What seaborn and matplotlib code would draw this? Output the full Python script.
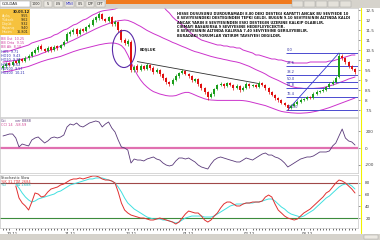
import numpy as np
import pandas as pd
import matplotlib
matplotlib.use("Agg")
import matplotlib.pyplot as plt
import seaborn as sns
from matplotlib.patches import Rectangle, Ellipse
from matplotlib.lines import Line2D

sns.set_style("white")
plt.rcParams['font.family'] = ['DejaVu Sans']

# ---------------- data ----------------
opens = [9.60,9.70,9.85,9.75,9.95,9.85,10.05,9.95,10.10,10.20,
         10.35,10.50,10.70,10.55,10.45,10.65,10.50,10.70,10.60,10.75,
         10.95,11.30,11.40,11.55,11.30,11.55,11.45,11.65,11.75,12.00,
         12.10,12.30,12.05,11.95,12.15,11.80,11.90,11.50,11.00,10.80,
         10.90,9.50,9.70,9.50,9.70,9.55,9.75,9.60,9.40,9.50,
         9.30,9.10,8.90,8.80,9.00,9.20,9.35,9.45,9.30,9.20,
         8.95,9.05,8.80,8.60,8.40,8.15,8.30,8.55,8.75,8.80,
         8.70,8.85,8.75,8.60,8.70,8.50,8.60,8.80,8.70,8.75,
         8.65,8.85,8.75,8.60,8.40,8.25,8.10,8.00,7.85,7.75,
         7.60,7.70,7.80,7.90,8.00,8.05,8.15,8.10,8.30,8.40,
         8.45,8.50,8.65,8.80,8.90,9.15,10.20,10.10,9.90,9.70,
         9.55]
closes = [9.70,9.80,9.75,9.90,9.85,10.00,9.95,10.10,10.20,10.40,
          10.50,10.65,10.55,10.45,10.60,10.50,10.65,10.60,10.75,10.90,
          11.30,11.40,11.50,11.30,11.50,11.45,11.65,11.75,12.00,12.15,
          12.30,12.05,11.95,12.15,11.80,11.90,11.50,11.00,10.85,10.95,
          9.50,9.65,9.50,9.70,9.55,9.75,9.60,9.40,9.50,9.30,
          9.10,8.90,8.80,9.00,9.20,9.35,9.45,9.30,9.20,9.00,
          9.05,8.80,8.60,8.40,8.15,8.30,8.55,8.75,8.80,8.70,
          8.85,8.75,8.60,8.70,8.50,8.60,8.80,8.70,8.75,8.65,
          8.85,8.75,8.60,8.40,8.25,8.10,8.00,7.85,7.75,7.60,
          7.70,7.80,7.90,8.00,8.05,8.15,8.10,8.30,8.40,8.45,
          8.50,8.65,8.80,8.90,9.10,10.20,10.10,9.90,9.70,9.55,
          9.40]
highs = [9.78,9.88,9.92,9.98,10.02,10.08,10.12,10.18,10.28,10.46,
         10.58,10.74,10.78,10.62,10.68,10.72,10.74,10.76,10.82,10.98,
         11.38,11.48,11.58,11.62,11.58,11.62,11.72,11.84,12.08,12.22,
         12.40,12.36,12.12,12.22,12.20,11.98,11.96,11.56,11.08,11.05,
         10.98,9.74,9.78,9.78,9.76,9.84,9.82,9.68,9.58,9.56,
         9.36,9.16,8.96,9.08,9.28,9.42,9.54,9.52,9.36,9.26,
         9.12,9.10,8.86,8.66,8.46,8.38,8.62,8.82,8.88,8.86,
         8.92,8.90,8.80,8.78,8.76,8.68,8.88,8.86,8.82,8.80,
         8.94,8.90,8.80,8.66,8.46,8.30,8.16,8.06,7.90,7.80,
         7.78,7.88,7.98,8.08,8.12,8.22,8.20,8.38,8.48,8.52,
         8.58,8.72,8.88,8.98,9.18,10.35,10.30,10.16,9.96,9.76,
         9.62]
lows = [9.52,9.62,9.68,9.68,9.78,9.78,9.88,9.88,10.02,10.14,
        10.28,10.42,10.48,10.38,10.38,10.42,10.44,10.52,10.54,10.68,
        10.88,11.22,11.32,11.22,11.24,11.38,11.38,11.58,11.68,11.92,
        12.02,11.98,11.88,11.88,11.72,11.72,11.42,10.92,10.76,10.72,
        9.40,9.42,9.42,9.44,9.48,9.48,9.52,9.32,9.34,9.22,
        9.02,8.82,8.72,8.74,8.94,9.12,9.28,9.24,9.12,8.92,
        8.88,8.72,8.52,8.32,8.02,8.08,8.22,8.48,8.68,8.62,
        8.64,8.68,8.52,8.54,8.42,8.44,8.54,8.62,8.64,8.58,
        8.60,8.68,8.52,8.32,8.18,8.02,7.92,7.78,7.68,7.50,
        7.54,7.64,7.74,7.84,7.94,7.98,8.04,8.04,8.24,8.34,
        8.38,8.44,8.58,8.74,8.84,9.08,10.02,9.82,9.62,9.48,
        9.32]
band_upper = [10.40,10.45,10.45,10.50,10.55,10.60,10.65,10.70,10.75,10.85,
              10.90,10.95,11.00,11.05,11.10,11.15,11.25,11.30,11.40,11.50,
              11.55,11.65,11.75,11.80,11.90,12.00,12.05,12.15,12.25,12.32,
              12.40,12.45,12.48,12.50,12.52,12.55,12.62,12.75,12.90,13.00,
              13.30,13.50,13.60,13.65,13.65,13.60,13.45,13.25,13.00,12.85,
              12.70,12.50,12.35,12.15,12.00,11.90,11.75,11.60,11.45,11.30,
              11.20,11.10,11.00,10.95,10.90,10.85,10.80,10.75,10.75,10.70,
              10.70,10.65,10.65,10.60,10.60,10.50,10.45,10.40,10.35,10.25,
              10.25,10.20,10.15,10.10,10.05,10.05,10.00,10.00,9.95,9.90,
              9.90,9.85,9.85,9.85,9.85,9.85,9.90,9.90,9.90,9.90,
              9.90,9.90,9.95,9.95,10.00,10.05,10.10,10.15,10.20,10.25,
              10.25]
band_mid = [9.90,9.92,9.94,9.96,9.98,10.02,10.05,10.08,10.12,10.16,
            10.20,10.25,10.32,10.38,10.44,10.50,10.56,10.62,10.70,10.78,
            10.85,10.93,11.00,11.08,11.16,11.25,11.32,11.40,11.48,11.56,
            11.63,11.70,11.76,11.82,11.88,11.92,11.96,11.98,12.00,11.98,
            11.92,11.85,11.76,11.68,11.58,11.48,11.40,11.32,11.25,11.18,
            11.10,11.03,10.96,10.88,10.82,10.75,10.68,10.62,10.55,10.48,
            10.42,10.38,10.33,10.28,10.23,10.18,10.14,10.10,10.07,10.03,
            10.00,9.96,9.93,9.90,9.86,9.80,9.74,9.68,9.60,9.52,
            9.45,9.38,9.30,9.20,9.12,9.05,8.98,8.90,8.82,8.75,
            8.68,8.64,8.61,8.60,8.58,8.58,8.58,8.58,8.59,8.60,
            8.62,8.66,8.70,8.75,8.80,8.86,8.92,8.98,9.05,9.10,
            9.15]
band_lower = [9.40,9.42,9.45,9.48,9.52,9.56,9.60,9.64,9.68,9.74,
              9.80,9.86,9.92,9.97,10.02,10.06,10.10,10.14,10.18,10.24,
              10.30,10.36,10.42,10.47,10.52,10.56,10.60,10.64,10.68,10.72,
              10.76,10.79,10.82,10.84,10.85,10.84,10.80,10.72,10.55,10.25,
              9.90,9.55,9.25,9.00,8.80,8.65,8.52,8.42,8.36,8.30,
              8.26,8.22,8.20,8.20,8.22,8.28,8.34,8.38,8.38,8.32,
              8.25,8.18,8.12,8.06,8.02,8.00,7.99,7.98,7.98,7.98,
              7.98,7.98,7.98,7.98,7.98,7.97,7.95,7.92,7.88,7.84,
              7.80,7.76,7.72,7.66,7.60,7.54,7.48,7.43,7.40,7.38,
              7.36,7.35,7.34,7.34,7.35,7.36,7.38,7.41,7.44,7.48,
              7.52,7.57,7.62,7.68,7.74,7.80,7.86,7.92,7.98,8.04,
              8.10]
cci = [142,153,165,165,118,12,47,35,24,94,
       118,130,94,59,83,118,130,118,130,153,
       248,283,271,295,260,248,271,295,307,319,
       307,248,283,307,236,189,94,12,0,-24,
       -177,-130,-142,-142,-153,-130,-118,-106,-130,-142,
       -177,-201,-212,-201,-153,-118,-118,-130,-118,-142,
       -165,-201,-224,-236,-248,-189,-142,-118,-106,-118,
       -130,-142,-153,-165,-165,-142,-118,-130,-142,-118,
       -94,-71,-59,-83,-83,-106,-118,-142,-177,-224,
       -201,-177,-153,-130,-118,-106,-106,-94,-71,-47,
       -47,-47,-35,24,59,142,224,118,83,71,
       35]
stoch_start = 4
stoch_k = [74.9,54.3,45.7,40.6,33.7,47.4,62.9,61.1,56.0,57.7,
           64.6,69.7,71.4,73.1,76.6,78.3,81.7,85.1,86.9,86.9,
           88.6,86.9,88.6,90.3,92.0,92.0,90.3,86.9,85.1,85.1,
           83.4,80.0,64.6,45.7,33.7,28.6,25.1,23.4,21.7,20.0,
           20.0,18.3,16.6,16.6,18.3,20.0,18.3,16.6,14.9,13.1,
           9.7,13.1,20.0,26.9,32.0,30.3,28.6,28.6,23.4,16.6,
           13.1,16.6,23.4,28.6,37.1,44.0,47.4,47.4,44.0,40.6,
           40.6,44.0,45.7,45.7,47.4,47.4,47.4,49.1,56.0,59.4,
           56.0,44.0,33.7,28.6,23.4,20.0,18.3,16.6,18.3,23.4,
           28.6,32.0,35.4,40.6,45.7,50.9,56.0,62.9,66.3,73.1,
           80.0,85.1,83.4,80.0,74.9,69.7,62.9]
stoch_d = [78.3,71.4,62.9,56.0,50.9,47.4,49.1,52.6,54.3,56.0,
           57.7,59.4,61.1,64.6,66.3,69.7,73.1,76.6,78.3,80.0,
           81.7,83.4,85.1,86.9,86.9,88.6,88.6,88.6,86.9,85.1,
           83.4,80.0,73.1,64.6,54.3,45.7,40.6,35.4,32.0,28.6,
           25.1,21.7,20.0,18.3,18.3,18.3,16.6,16.6,14.9,13.1,
           11.4,13.1,16.6,20.0,21.7,23.4,23.4,23.4,23.4,21.7,
           21.7,21.7,23.4,26.9,30.3,33.7,37.1,40.6,42.3,44.0,
           44.0,44.0,45.7,45.7,45.7,47.4,47.4,49.1,50.9,52.6,
           52.6,49.1,44.0,38.9,35.4,30.3,26.9,25.1,23.4,21.7,
           23.4,26.9,30.3,33.7,38.9,44.0,49.1,54.3,57.7,62.9,
           68.0,73.1,76.6,78.3,78.3,74.9,69.7]
date_labels = ["10.11", "11.11", "12.11", "01.12", "02.12", "03.12"]
date_pos = [3, 21, 40, 58, 77, 95]
fib_ratios = [0.0, 0.236, 0.382, 0.5, 0.618, 0.764, 1.0]
fib_labels = ["0.0", "23.6", "38.2", "50.0", "61.8", "76.4", "100.0"]
trend_x = [42, 80]
trend_y = [9.92, 8.82]
gap_label = "BOŞLUK"
comment_lines = [
    "HISSE DUSUSUNU DURDURAMADI 8.80 DEKI DESTEGI KAPATTI ANCAK BU SEVIYEDE 10",
    "8 SEVIYESINDEKI DESTEGINDEN TEPKI GELDI. BUGUN 9.10 SEVIYESININ ALTINDA KALDI",
    "ANCAK YARIN 8 SEVIYESINDEN ESKI DESTEGIN UZERINE KALKIP OLABILIR.",
    "CIKMAYI BASARIRSA 9 SEVIYESINE HEDEFLEYECEKTIR.",
    "8 SEVIYESININ ALTINDA KALIRSA 7.40 SEVIYESINE GERILEYEBILIR.",
    "BURADAKI YORUMLAR YATIRIM TAVSIYESI DEGILDIR.",
]

# ---------------- figure ----------------
W, H = 380, 240
fig = plt.figure(figsize=(W / 100, H / 100), dpi=100)
fig.patch.set_facecolor("white")

def ax_px(x0, y0, x1, y1):
    return fig.add_axes([x0 / W, 1 - y1 / H, (x1 - x0) / W, (y1 - y0) / H])

ax1 = ax_px(0, 8, 358, 117)
ax2 = ax_px(0, 118, 358, 173)
ax3 = ax_px(0, 175, 358, 228)

n = len(closes)
idx = np.arange(n)
XL = (-0.94, 110.94)

for ax in (ax1, ax2, ax3):
    ax.set_xlim(*XL)
    ax.yaxis.tick_right()
    ax.tick_params(axis='y', labelsize=3, length=1.2, width=0.4, pad=4,
                   colors="#404040")
    for s in ax.spines.values():
        s.set_color("#c8c8c8")
        s.set_linewidth(0.5)
    ax.set_facecolor("white")

# ---- main price panel ----
bb = pd.DataFrame({"i": idx, "up": band_upper, "mid": band_mid, "lo": band_lower})
for col in ("up", "mid", "lo"):
    sns.lineplot(data=bb, x="i", y=col, ax=ax1, color="#cc33cc", linewidth=0.7,
                 legend=False, zorder=1)

o = np.array(opens); c = np.array(closes)
hi = np.array(highs); lo = np.array(lows)
up = c >= o
cols = np.where(up, "#1a9e1a", "#e01010")
ax1.vlines(idx, lo, hi, colors=cols, linewidth=0.5, zorder=3)
body = np.maximum(np.abs(c - o), 0.02)
ax1.bar(idx, body, bottom=np.minimum(o, c), width=0.65, color=cols, linewidth=0,
        zorder=3)

ax1.set_ylim(7.15, 12.6)
ax1.set_yticks(np.arange(7.5, 12.51, 0.5))
ax1.set_yticklabels([f"{v:g}" for v in np.arange(7.5, 12.51, 0.5)])
ax1.set_xticks([])
ax1.set_xlabel(""); ax1.set_ylabel("")

# trend line
sns.lineplot(x=trend_x, y=trend_y, ax=ax1, color="#303030", linewidth=0.6, legend=False)

# Fibonacci
i_lo = int(np.argmin(lo))
i_hi = i_lo + int(np.argmax(hi[i_lo:]))
f_lo, f_hi = lo[i_lo], hi[i_hi]
for r, lab in zip(fib_ratios, fib_labels):
    lev = f_hi - r * (f_hi - f_lo)
    ax1.hlines(lev, i_lo - 0.5, XL[1], color="#4a4ad0", linewidth=0.7, zorder=2)
    ax1.text(i_lo - 0.2, lev + 0.05, lab, fontsize=2.6, color="#3030a0",
             va="bottom", ha="left")
ax1.plot([idx[i_lo], idx[i_hi]], [f_lo, f_hi], color="#3a3ad0", linewidth=0.6)

# gap ellipse
ax1.add_patch(Ellipse((37.8, 10.55), 7.2, 1.85, fill=False, edgecolor="#5a2aa8",
                      linewidth=0.8, zorder=4))
ax1.text(42.6, 10.45, gap_label, fontsize=2.6, fontweight="bold", color="#202020")

# ---- CCI panel ----
sns.lineplot(x=idx, y=cci, ax=ax2, color="#5a3a7a", linewidth=0.6, legend=False)
ax2.axhline(0, color="#e070b0", linewidth=1.6, zorder=0)
ax2.set_ylim(-295, 354)
ax2.set_yticks([-200, 0, 200])
ax2.set_yticklabels(["-200", "0", "200"])
ax2.set_xticks([])
ax2.set_xlabel(""); ax2.set_ylabel("")

# ---- Stochastic panel ----
sidx = idx[stoch_start:]
ax3.axhline(80, color="#a04848", linewidth=0.8, zorder=0)
ax3.axhline(20, color="#3c8c3c", linewidth=0.8, zorder=0)
sns.lineplot(x=sidx, y=stoch_d, ax=ax3, color="#40e0e0", linewidth=0.7, legend=False)
sns.lineplot(x=sidx, y=stoch_k, ax=ax3, color="#e03030", linewidth=0.7, legend=False)
ax3.set_ylim(2.9, 93.7)
ax3.set_yticks([20, 40, 60, 80])
ax3.set_yticklabels(["20", "40", "60", "80"])
ax3.set_xticks(date_pos)
ax3.set_xticklabels(date_labels)
ax3.set_xticks(idx, minor=True)
ax3.tick_params(axis='x', which='major', labelsize=2.8, length=1.5, width=0.5,
                pad=1.2, colors="#303030")
ax3.tick_params(axis='x', which='minor', length=1.5, width=0.5, colors="#303030",
                bottom=True)
ax3.set_xlabel(""); ax3.set_ylabel("")

# ---------------- decorations (figure level) ----------------
def frect(x0, y0, w, h, fc, ec="none", lw=0.0, z=5):
    fig.add_artist(Rectangle((x0 / W, 1 - (y0 + h) / H), w / W, h / H,
                             transform=fig.transFigure, facecolor=fc,
                             edgecolor=ec, linewidth=lw, zorder=z))

def ftext(x, y, t, **kw):
    kw.setdefault("fontsize", 2.8)
    kw.setdefault("va", "center")
    fig.text(x / W, 1 - y / H, t, zorder=10, **kw)

# top toolbar
frect(0, 0, 380, 8, "#d6d3cc")
frect(0, 1, 30, 6, "white", ec="#909090", lw=0.3)
ftext(1.5, 4, "GOLDAS", fontsize=2.8, color="#202020")
for x0, w, t, col in [(31, 10, "1000", "#202020"), (44, 8, "5", "#202020"),
                      (54, 9, "L/S", "#202020"), (65, 9, "MINI", "#2020c0"),
                      (76, 8, "0.5", "#202020"), (86, 8, "D/P", "#202020"),
                      (96, 9, "OPT", "#202020")]:
    frect(x0, 1, w, 6, "#ece9e2", ec="#a0a0a0", lw=0.3)
    ftext(x0 + w / 2, 4, t, fontsize=2.4, color=col, ha="center")
frect(106, 0, 186, 4, "#f07a1e")
for x0 in (292, 304, 316, 328, 340):
    frect(x0, 1, 11, 6, "#e4e1da", ec="#a0a0a0", lw=0.3)

# yellow vertical cursor line
fig.add_artist(Line2D([361 / W, 361 / W], [1 - 8 / H, 1 - 233 / H],
                      transform=fig.transFigure, color="#f0f000", linewidth=0.8,
                      zorder=6))

# legend box top-left
frect(0, 9, 30, 26, "#f6c23e")
ftext(13, 12, "30.03.12", fontsize=2.5, color="#202020", fontweight="bold")
for k, (lab, val) in enumerate([("Açılış", "9.55"), ("Yüksek", "9.62"),
                                 ("Düşük", "9.32"), ("Kapanış", "9.40"),
                                 ("Hacim", "16.801")]):
    ftext(2, 16 + 4 * k, lab, fontsize=2.4, color="#fff4d0")
    ftext(28.5, 16 + 4 * k, val, fontsize=2.4, color="#202020", ha="right")

# indicator values under legend
for k, t in enumerate(["BB Üst  10.25", "BB Orta  9.15", "BB Alt  8.10"]):
    ftext(1, 39 + 4 * k, t, fontsize=2.4, color="#d040a0")
for k, t in enumerate(["HO5  9.71", "HO10  9.43", "HO20  9.10",
                       "HO50  9.02", "HO100  9.57", "HO200  10.21"]):
    ftext(1, 52 + 4.2 * k, t, fontsize=2.4, color="#2a2ab0")

# commentary
for k, t in enumerate(comment_lines):
    ftext(177, 13.7 + 4.4 * k, t, fontsize=2.5, color="#101010", fontweight="bold")

# panel headers
ftext(1, 121, "Cci", fontsize=2.5, color="#5a3a7a")
ftext(15, 121, "ver 8888", fontsize=2.5, color="#5a3a7a")
ftext(1, 125, "CCI 14  -58.59", fontsize=2.5, color="#d04090")
ftext(1, 178, "Stochastic Slow", fontsize=2.5, color="#303030")
ftext(1, 182, "%K 31.71", fontsize=2.5, color="#e03030")
ftext(17, 182, "57.2684", fontsize=2.5, color="#e03030")
ftext(1, 185.5, "%D", fontsize=2.5, color="#20c0c0")
ftext(17, 185.5, "61.1688", fontsize=2.5, color="#20c0c0")

# bottom status strip
frect(0, 234, 380, 6, "#d6d3cc")
frect(364, 235, 14, 4, "#ece9e2", ec="#a0a0a0", lw=0.3)

fig.savefig("out.png", dpi=100)
